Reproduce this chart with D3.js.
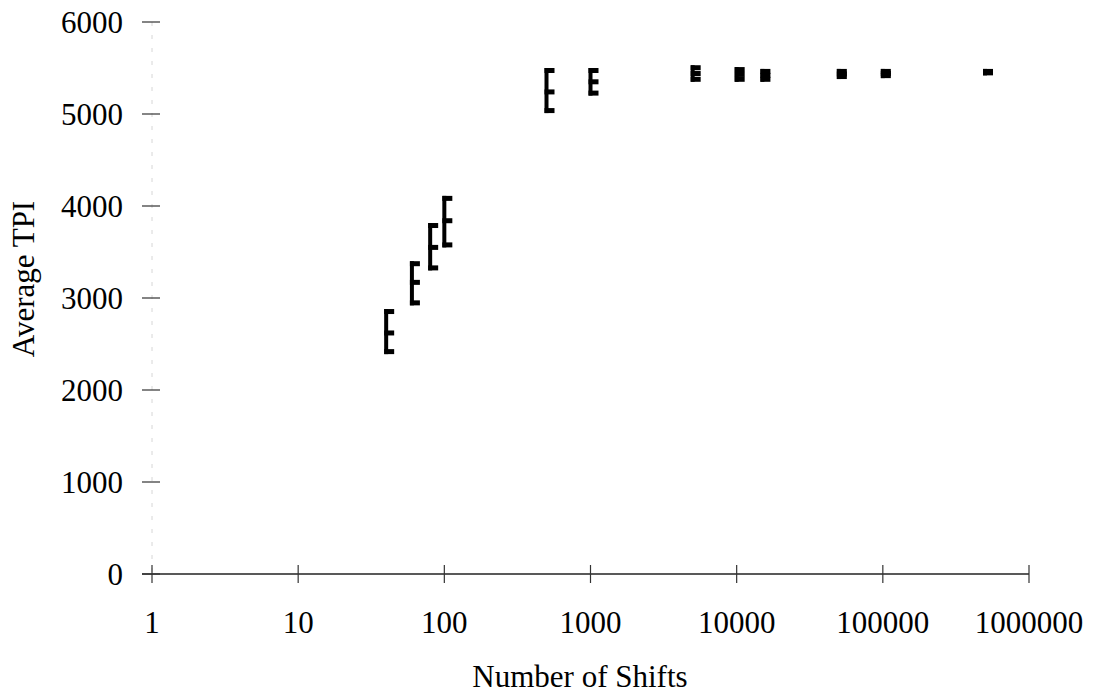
<!DOCTYPE html>
<html>
<head>
<meta charset="utf-8">
<script src="https://cdn.jsdelivr.net/npm/d3@7"></script>
<style>
  body { margin: 0; background: #fff; }
  text { font-family: "Liberation Serif", "Times New Roman", serif; fill: #000; }
</style>
</head>
<body>
<div id="js_chart"></div>
<script>
// data
var shifts  = [40, 60, 80, 100, 500, 1000, 5000, 10000, 15000, 50000, 100000, 500000];
var tpiLow  = [2390, 2920, 3300, 3550, 5010, 5200, 5350, 5350, 5350, 5380, 5390, 5420];
var tpiMean = [2620, 3170, 3550, 3840, 5240, 5350, 5440, 5430, 5420, 5435, 5440, 5455];
var tpiHigh = [2880, 3400, 3815, 4110, 5500, 5500, 5530, 5510, 5490, 5490, 5490, 5490];

var xTicks = [1, 10, 100, 1000, 10000, 100000, 1000000];
var yTicks = [0, 1000, 2000, 3000, 4000, 5000, 6000];

var width = 1093, height = 695;

var svg = d3.select("#js_chart").append("svg")
  .attr("width", width)
  .attr("height", height);

var x = d3.scaleLog().domain([1, 1000000]).range([152, 1029]);
var y = d3.scaleLinear().domain([0, 6000]).range([574, 22]);

// faint dashed y axis
svg.append("line")
  .attr("x1", x(1)).attr("x2", x(1))
  .attr("y1", y(6000)).attr("y2", y(0))
  .attr("stroke", "#d6d6d6")
  .attr("stroke-width", 1)
  .attr("stroke-dasharray", "4,9");

// x axis line
svg.append("line")
  .attr("x1", 142).attr("x2", x(1000000))
  .attr("y1", y(0)).attr("y2", y(0))
  .attr("stroke", "#222")
  .attr("stroke-width", 1.5);

// x ticks + labels
xTicks.forEach(function(v) {
  svg.append("line")
    .attr("x1", x(v)).attr("x2", x(v))
    .attr("y1", y(0) - 9).attr("y2", y(0) + 9)
    .attr("stroke", "#333")
    .attr("stroke-width", 1.2);

  svg.append("text")
    .attr("x", x(v))
    .attr("y", 633)
    .attr("text-anchor", "middle")
    .style("font-size", "31px")
    .text(String(v));
});

// y ticks + labels
yTicks.forEach(function(v) {
  svg.append("line")
    .attr("x1", 142).attr("x2", 160)
    .attr("y1", y(v)).attr("y2", y(v))
    .attr("stroke", "#333")
    .attr("stroke-width", 1.2);

  svg.append("text")
    .attr("x", 123)
    .attr("y", y(v) + 11)
    .attr("text-anchor", "end")
    .style("font-size", "31px")
    .text(String(v));
});

// axis titles
svg.append("text")
  .attr("x", 580)
  .attr("y", 687)
  .attr("text-anchor", "middle")
  .style("font-size", "31px")
  .text("Number of Shifts");

svg.append("text")
  .attr("transform", "translate(34," + 279 + ") rotate(-90)")
  .attr("text-anchor", "middle")
  .style("font-size", "31px")
  .text("Average TPI");

// error bars drawn as "E" shapes: left stem, top/bottom caps, mean tick
var capW = 10, stemW = 4, capH = 5;
var g = svg.append("g").attr("fill", "#000");

shifts.forEach(function(s, i) {
  var cx = x(s);
  var yt = y(tpiHigh[i]), yb = y(tpiLow[i]), ym = y(tpiMean[i]);

  // stem
  g.append("rect")
    .attr("x", cx - 2).attr("y", yt)
    .attr("width", stemW).attr("height", yb - yt);
  // top cap
  g.append("rect")
    .attr("x", cx - 2).attr("y", yt)
    .attr("width", capW).attr("height", capH);
  // bottom cap
  g.append("rect")
    .attr("x", cx - 2).attr("y", yb - capH)
    .attr("width", capW).attr("height", capH);
  // mean tick
  g.append("rect")
    .attr("x", cx - 2).attr("y", ym - capH / 2)
    .attr("width", capW).attr("height", capH);
});
</script>
</body>
</html>
